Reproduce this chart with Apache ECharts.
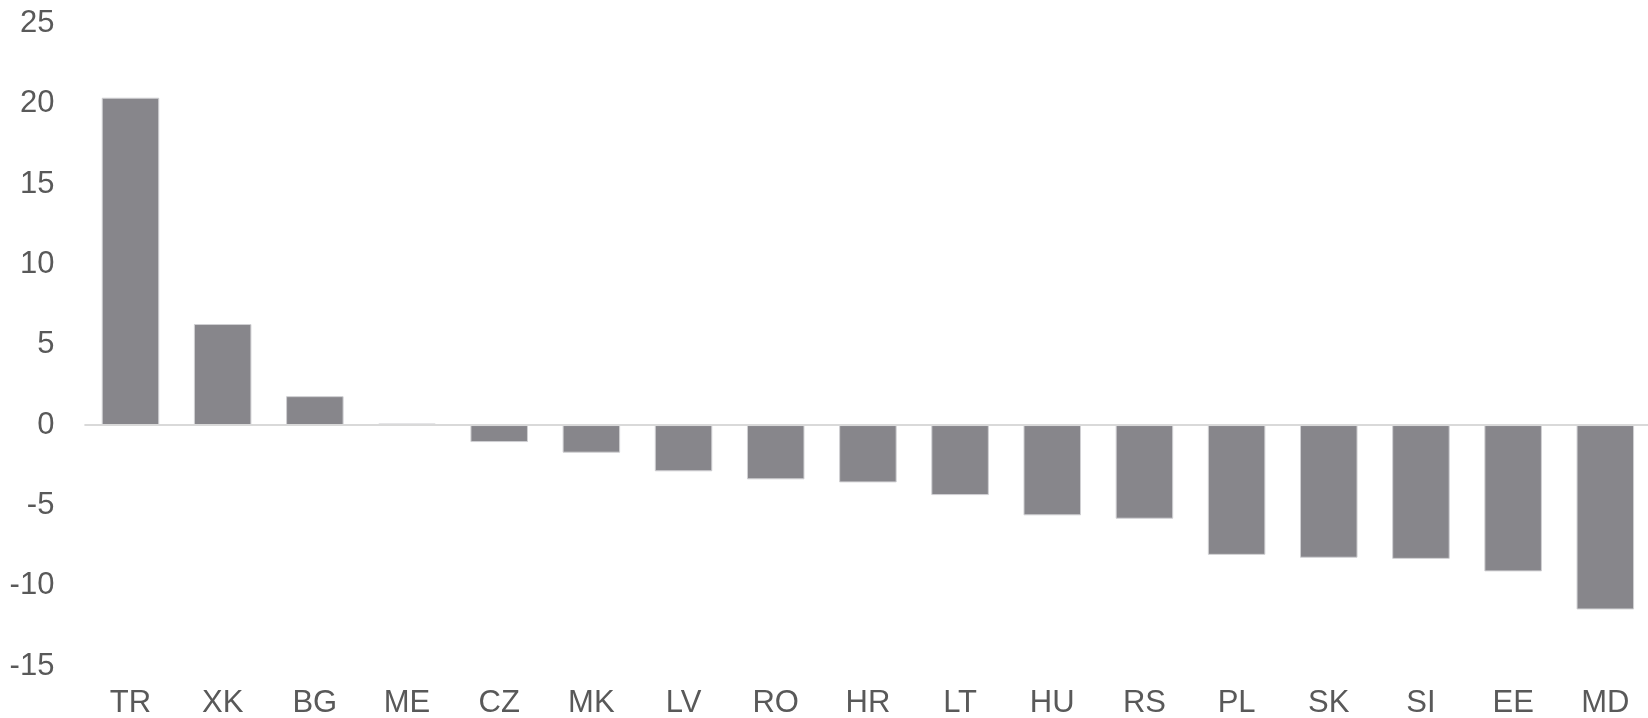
<!DOCTYPE html>
<html>
<head>
<meta charset="utf-8">
<script src="https://cdn.jsdelivr.net/npm/echarts@6/dist/echarts.min.js"></script>
<style>
html, body { margin: 0; padding: 0; background: #fff; }
#main { width: 1648px; height: 718px; }
</style>
</head>
<body>
<div id="main"></div>
<script>
// 国家代码
var countries = ['TR', 'XK', 'BG', 'ME', 'CZ', 'MK', 'LV', 'RO', 'HR', 'LT', 'HU', 'RS', 'PL', 'SK', 'SI', 'EE', 'MD'];
// 数值
var values = [20.38, 6.29, 1.8, 0.1, -1.06, -1.72, -2.88, -3.38, -3.57, -4.36, -5.62, -5.83, -8.08, -8.26, -8.33, -9.11, -11.48];
var yTicks = { min: -15, max: 25, interval: 5 };

var myChart = echarts.init(document.getElementById('main'));
var option = {
	backgroundColor: '#fff',
	animation: false,
	grid: {
		left: 84.4,
		width: 1567,
		top: 23.5,
		bottom: 52,
		outerBoundsMode: 'none',
		containLabel: false
	},
	xAxis: {
		type: 'category',
		data: countries,
		axisLine: { show: false },
		axisTick: { show: false },
		axisLabel: {
			color: '#595959',
			fontSize: 31,
			fontFamily: '"Liberation Sans", Arial, sans-serif',
			margin: 22
		}
	},
	yAxis: {
		type: 'value',
		min: yTicks.min,
		max: yTicks.max,
		interval: yTicks.interval,
		axisLine: { show: false },
		axisTick: { show: false },
		splitLine: { show: false },
		axisLabel: {
			color: '#595959',
			fontSize: 31,
			fontFamily: '"Liberation Sans", Arial, sans-serif',
			margin: 30
		}
	},
	series: [{
		type: 'bar',
		data: values,
		barCategoryGap: '37.6%',
		itemStyle: {
			color: '#87868b',
			borderColor: '#d0d0d3',
			borderWidth: 1
		},
		// 零线
		markLine: {
			silent: true,
			symbol: 'none',
			label: { show: false },
			lineStyle: { color: '#d9d9d9', width: 2, type: 'solid' },
			data: [{ yAxis: 0 }]
		}
	}]
};
myChart.setOption(option);
</script>
</body>
</html>
